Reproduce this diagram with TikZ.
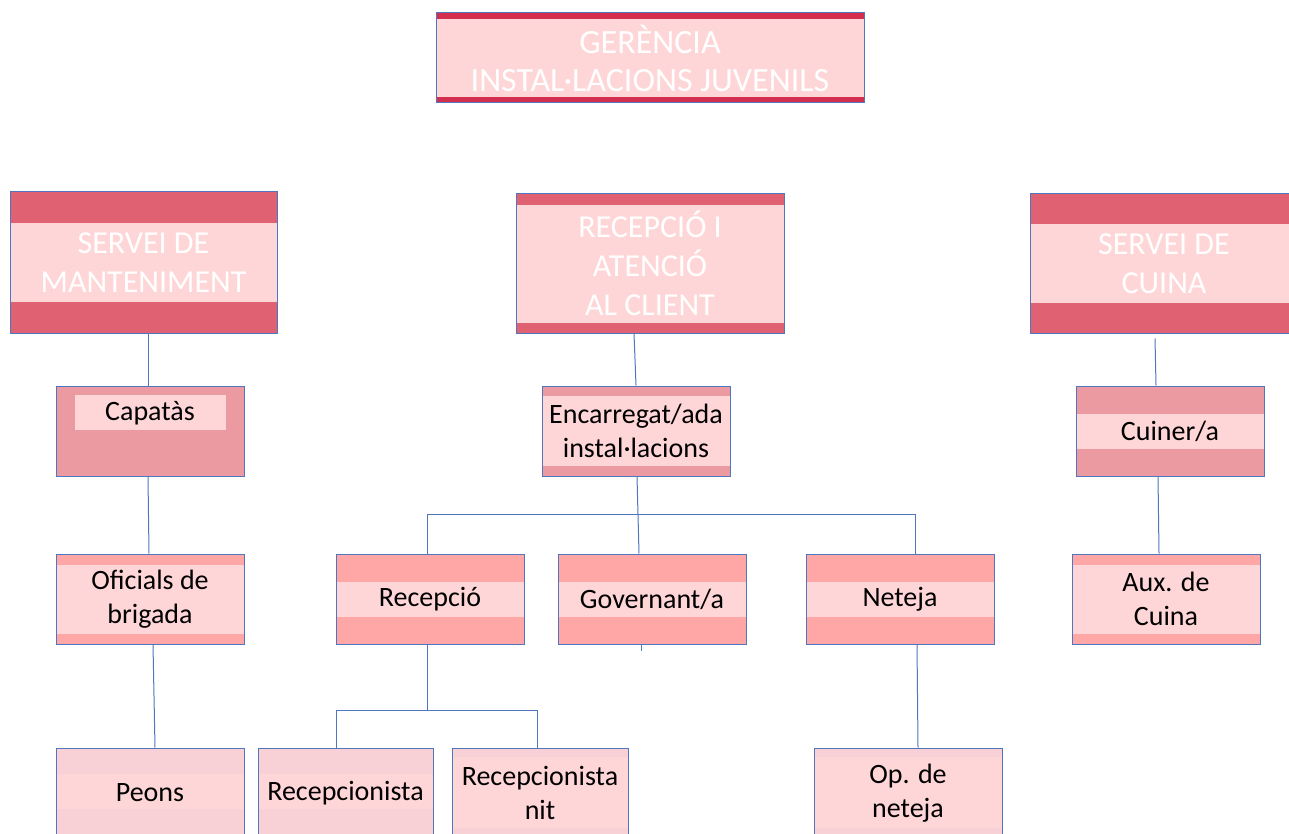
\documentclass[tikz,border=0pt]{standalone}
\usepackage{fontspec}
\setmainfont{Carlito}
\usepackage{tikz}
\definecolor{lineblue}{HTML}{4F76BE}
\definecolor{topred}{HTML}{D42E4F}
\definecolor{headred}{HTML}{E06172}
\definecolor{midpink}{HTML}{EC9AA2}
\definecolor{salmon}{HTML}{FFA7A7}
\definecolor{palepink}{HTML}{F7D1D6}
\definecolor{bandpink}{HTML}{FFD6D7}

\begin{document}
\begin{tikzpicture}[x=1pt,y=-1pt,
box/.style={rectangle,draw=lineblue,line width=1pt,inner sep=0pt,align=center,
  minimum width=188pt,minimum height=90pt,text=black,font=\fontsize{28}{34}\selectfont},
head/.style={box,text=white,font=\fontsize{32}{39}\selectfont,minimum width=268pt,minimum height=139pt},
banded/.style n args={3}{fill=#1,path picture={\fill[bandpink]
  ([yshift=-#2]path picture bounding box.north west) rectangle
  ([yshift=#3]path picture bounding box.south east);}},
myline/.style={draw=lineblue,line width=1pt}]
\clip (0,0) rectangle (1289,834);
\fill[white] (0,0) rectangle (1289,834);
% direction and services
\node[head,minimum width=428pt,minimum height=90pt,font=\fontsize{34}{38}\selectfont,
  banded={topred}{6pt}{6pt}] (ger) at (650,58) {GERÈNCIA\\INSTAL·LACIONS JUVENILS};
\node[head,minimum width=267pt,minimum height=141pt,banded={headred}{31pt}{31pt}] (mant) at (143.5,262.5) {SERVEI DE\\MANTENIMENT};
\node[head,banded={headred}{11pt}{10pt}] (rec) at (650,263.5) {RECEPCIÓ I\\ATENCIÓ\\AL CLIENT};
\node[head,banded={headred}{30pt}{30pt}] (cui) at (1164,263.5) {SERVEI DE\\CUINA};
% second level
\node[box,fill=midpink,text height=20pt,text depth=42pt,path picture={\fill[bandpink]
  ([shift={(19pt,-9pt)}]path picture bounding box.north west) rectangle
  ([shift={(-18pt,46pt)}]path picture bounding box.south east);}] (cap) at (150,431) {Capatàs};
\node[box,banded={midpink}{10pt}{10pt}] (enc) at (636,431) {Encarregat/ada\\instal·lacions};
\node[box,banded={midpink}{28pt}{27pt}] (cun) at (1170,431) {Cuiner/a};
% third level
\node[box,banded={salmon}{11pt}{10pt}] (ofi) at (150,599) {Oficials de\\brigada};
\node[box,banded={salmon}{28pt}{27pt}] (rcp) at (430,599) {Recepció};
\node[box,banded={salmon}{28pt}{27pt}] (gov) at (652,599) {Governant/a};
\node[box,banded={salmon}{28pt}{27pt}] (net) at (900,599) {Neteja};
\node[box,banded={salmon}{11pt}{10pt}] (aux) at (1166,599) {Aux. de\\Cuina};
% fourth level
\node[box,banded={palepink}{26pt}{29pt}] (peo) at (150,793) {Peons};
\node[box,minimum width=175pt,banded={palepink}{26pt}{29pt}] (rcn) at (345.5,793) {Recepcionista};
\node[box,minimum width=176pt,banded={palepink}{9pt}{10pt}] (rnt) at (540,793) {Recepcionista\\nit};
\node[box,banded={palepink}{9pt}{10pt}] (opn) at (908,793) {Op. de\\neteja};
% connectors
\coordinate (barL) at (427,514);
\coordinate (barR) at (915,514);
\coordinate (subL) at (336,710);
\coordinate (subR) at (537,710);
\coordinate (stub) at (641,651);
\draw[myline] ([xshift=4.5pt]mant.south) -- ([xshift=-2pt]cap.north);
\draw[myline] ([xshift=-2pt]cap.south) -- ([xshift=-1pt]ofi.north);
\draw[myline] ([xshift=3pt]ofi.south) -- ([xshift=5pt]peo.north);
\draw[myline] ([xshift=-16pt]rec.south) -- (enc.north);
\draw[myline] ([xshift=1pt]enc.south) -- (gov.north -| 639,0);
\draw[myline] (rcp.north -| barL) -- (barL) -- (barR) -- (net.north -| barR);
\draw[myline] (gov.south -| stub) -- (stub);
\draw[myline] ([xshift=-3pt]rcp.south) -- ([xshift=-3pt]rcp.south |- subL);
\draw[myline] (rcn.north -| subL) -- (subL) -- (subR) -- (rnt.north -| subR);
\draw[myline] ([xshift=17pt]net.south) -- ([xshift=10pt]opn.north);
\draw[myline] ([xshift=-9pt,yshift=-5pt]cui.south) -- ([xshift=-14pt]cun.north);
\draw[myline] ([xshift=-12pt]cun.south) -- ([xshift=-7pt]aux.north);
\end{tikzpicture}
\end{document}
